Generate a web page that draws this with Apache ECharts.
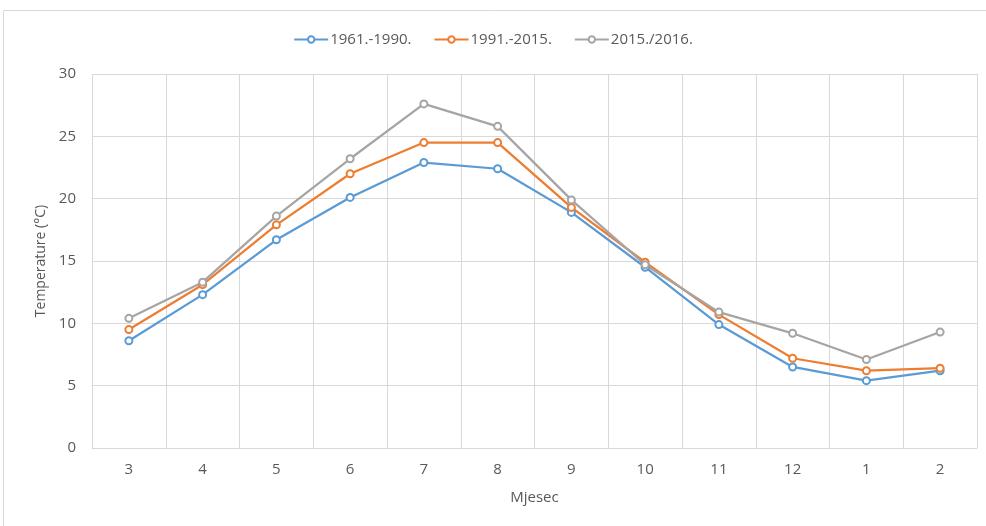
<!DOCTYPE html>
<html><head><meta charset="utf-8">
<script src="https://cdn.jsdelivr.net/npm/echarts@6/dist/echarts.min.js"></script>
<style>html,body{margin:0;padding:0;background:#fff}#c{width:986px;height:526px}</style>
</head><body><div id="c"></div>
<script>
const categories = ['3','4','5','6','7','8','9','10','11','12','1','2'];
const s1961 = [8.6, 12.3, 16.7, 20.1, 22.9, 22.4, 18.9, 14.5, 9.9, 6.5, 5.4, 6.2];
const s1991 = [9.5, 13.1, 17.9, 22.0, 24.5, 24.5, 19.3, 14.9, 10.7, 7.2, 6.2, 6.4];
const s2015 = [10.4, 13.3, 18.6, 23.2, 27.6, 25.8, 19.9, 14.7, 10.9, 9.2, 7.1, 9.3];
const names = ['1961.-1990.', '1991.-2015.', '2015./2016.'];
const colors = ['#5B9BD5', '#ED7D31', '#A5A5A5'];
const yTicks = [0, 5, 10, 15, 20, 25, 30];

const font = '"Open Sans", "Liberation Sans", sans-serif';
const chart = echarts.init(document.getElementById('c'));
function mk(name, data, color) {
  return {
    name, type: 'line', data,
    symbol: 'emptyCircle', symbolSize: 7,
    lineStyle: { color, width: 2.25 },
    itemStyle: { color, borderColor: color, borderWidth: 1 },
    animation: false
  };
}
chart.setOption({
  animation: false,
  backgroundColor: '#fff',
  color: colors,
  graphic: [{ type: 'rect', shape: { x: 3.5, y: 10.5, width: 990, height: 530 }, style: { fill: 'none', stroke: '#d9d9d9', lineWidth: 1 } }],
  legend: {
    top: 27, left: 'center',
    itemWidth: 34, itemHeight: 8, itemGap: 22,
    textStyle: { fontFamily: font, fontSize: 15, color: '#595959', padding: [0, 0, 0, -3] },
    data: names
  },
  grid: { left: 92, right: 9, top: 74, bottom: 78 },
  xAxis: {
    type: 'category', data: categories, boundaryGap: true,
    name: 'Mjesec', nameLocation: 'middle', nameGap: 42,
    nameTextStyle: { fontFamily: font, fontSize: 15, color: '#595959' },
    axisLine: { lineStyle: { color: '#d9d9d9' } },
    axisTick: { show: false },
    axisLabel: { fontFamily: font, fontSize: 15, color: '#595959', margin: 14 },
    splitLine: { show: true, lineStyle: { color: '#d9d9d9' } }
  },
  yAxis: {
    type: 'value', min: yTicks[0], max: yTicks[yTicks.length - 1], interval: 5,
    name: 'Temperature (°C)', nameLocation: 'middle', nameGap: 42,
    nameTextStyle: { fontFamily: font, fontSize: 14, color: '#595959' },
    axisLine: { show: false }, axisTick: { show: false },
    axisLabel: { fontFamily: font, fontSize: 15, color: '#595959', margin: 16 },
    splitLine: { lineStyle: { color: '#d9d9d9' } }
  },
  series: [mk(names[0], s1961, colors[0]), mk(names[1], s1991, colors[1]), mk(names[2], s2015, colors[2])]
});
</script></body></html>
